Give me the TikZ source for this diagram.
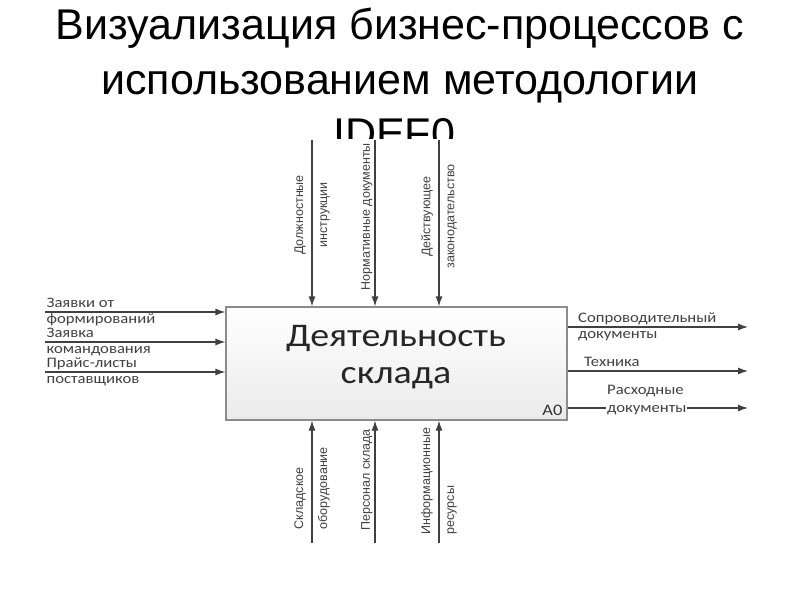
\documentclass[tikz,border=0pt]{standalone}
\usepackage{fontspec}
\setmainfont{Liberation Sans}
\newfontfamily\calfont{Carlito}[FakeStretch=1.15]
\usetikzlibrary{arrows.meta,positioning,calc}

\begin{document}
\begin{tikzpicture}[x=1pt,y=-1pt,>={Latex[length=10pt,width=7pt]},
  flow/.style={->,draw=black!75,line width=1.2pt},
  box/.style={draw=black!45,line width=1.2pt,top color=white,bottom color=black!8,minimum width=341pt,minimum height=113pt},
  hlab/.style={font=\calfont\fontsize{14.5}{16}\selectfont,text=black!75,inner sep=1pt,text height=9.5pt,text depth=2.5pt},
  vlab/.style={font=\fontsize{12.5}{24}\selectfont,text=black!75,rotate=90,inner sep=2pt}]
\useasboundingbox (0,0) rectangle (800,600);
\begin{scope}
\clip (0,0) rectangle (800,138);
\node[font=\fontsize{43}{54.5}\selectfont,align=center,inner sep=0pt,anchor=north] (title) at (400,8) {Визуализация бизнес-процессов с\\использованием методологии\\IDEF0.};
\end{scope}
\node[box] (act) at (396.5,363.5) {};
\node[font=\calfont\fontsize{33}{37}\selectfont,align=center,text=black!85] (actname) at (396,357) {Деятельность\\склада};
\node[font=\calfont\fontsize{16}{18}\selectfont,text=black!80,anchor=south east,inner sep=5pt] (num) at (act.south east) {A0};
\coordinate (in1) at (45,312);
\coordinate (in2) at (45,342);
\coordinate (in3) at (45,372);
\coordinate (out1) at (748,327);
\coordinate (out2) at (748,371);
\coordinate (out3) at (748,408);
\coordinate (ctl1) at (312,140);
\coordinate (ctl2) at (375,140);
\coordinate (ctl3) at (439,140);
\coordinate (mech1) at (312,543);
\coordinate (mech2) at (375,543);
\coordinate (mech3) at (439,543);
\draw[flow] (in1) -- (in1 -| act.west) node[hlab,pos=0,anchor=south west] {Заявки от} node[hlab,pos=0,anchor=north west] {формирований};
\draw[flow] (in2) -- (in2 -| act.west) node[hlab,pos=0,anchor=south west] {Заявка} node[hlab,pos=0,anchor=north west] {командования};
\draw[flow] (in3) -- (in3 -| act.west) node[hlab,pos=0,anchor=south west] {Прайс-листы} node[hlab,pos=0,anchor=north west] {поставщиков};
\draw[flow] (out1 -| act.east) -- (out1) node[hlab,pos=0,anchor=south west,xshift=9pt] {Сопроводительный} node[hlab,pos=0,anchor=north west,xshift=9pt] {документы};
\draw[flow] (out2 -| act.east) -- (out2) node[hlab,pos=0,anchor=south west,xshift=15pt] {Техника};
\draw[flow] (out3 -| act.east) -- (out3) node[font=\calfont\fontsize{14.5}{18}\selectfont,text=black!75,fill=white,inner sep=1pt,align=left,pos=0,anchor=west,xshift=38pt,yshift=8pt] {Расходные\\документы};
\draw[flow] (ctl1) -- (ctl1 |- act.north) node[vlab,pos=0.45,align=center] {Должностные\\инструкции};
\draw[flow] (ctl2) -- (ctl2 |- act.north) node[vlab,pos=0.46,anchor=south] {Нормативные документы};
\draw[flow] (ctl3) -- (ctl3 |- act.north) node[vlab,pos=0.46,align=center] {Действующее\\законодательство};
\draw[flow] (mech1) -- (mech1 |- act.south) node[vlab,pos=0.09,anchor=west,align=left] {Складское\\оборудование};
\draw[flow] (mech2) -- (mech2 |- act.south) node[vlab,pos=0.08,anchor=south west] {Персонал склада};
\draw[flow] (mech3) -- (mech3 |- act.south) node[vlab,pos=0.05,anchor=west,align=left] {Информационные\\ресурсы};
\end{tikzpicture}
\end{document}
